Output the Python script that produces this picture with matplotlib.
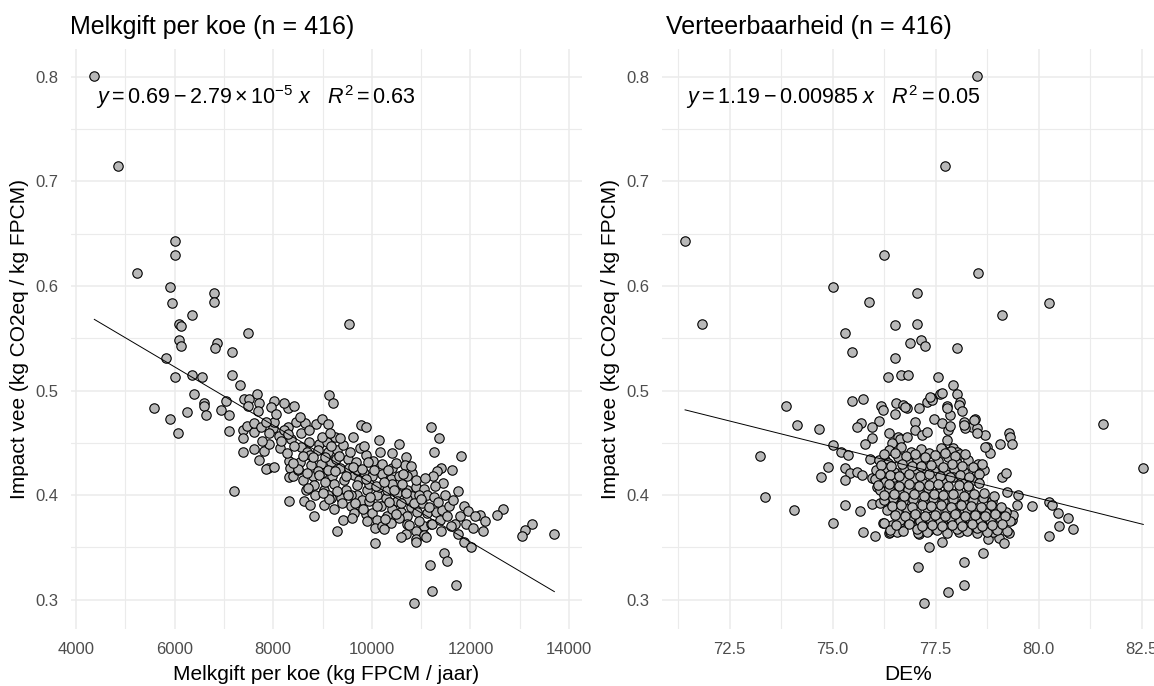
import matplotlib
matplotlib.use("Agg")
import matplotlib.pyplot as plt
import numpy as np

plt.rcParams['font.family'] = ['Liberation Sans', 'DejaVu Sans']
plt.rcParams['mathtext.fontset'] = 'custom'
plt.rcParams['mathtext.rm'] = 'Liberation Sans'
plt.rcParams['mathtext.it'] = 'Liberation Sans:italic'
plt.rcParams['mathtext.bf'] = 'Liberation Sans:bold'

# ---------------- data: left panel (Melkgift per koe) ----------------
melk_x = [
    4372, 4859, 6008, 6008, 5244, 5907, 5941, 6799, 6799, 6346, 6096, 6120, 7495, 6096, 6123, 6853, 6826, 7157, 5826,
    9538,
    6008, 6346, 6563, 7157, 7326, 6394, 5582, 5907, 6062, 6252, 6603, 6603, 6637, 6941, 7110, 7042, 7401, 7502, 7495,
    7103, 7205, 7380, 7394, 7462, 7617, 8002, 7394, 7894, 8307,
    7669, 7716, 7682, 8020, 8209, 8412, 7953, 9141, 9222, 7601, 7750, 8007, 8290, 8459, 8641, 8864, 8999, 9114,
    7919, 8122, 8223, 8358, 8560, 8729, 8932, 9087, 9249, 9789, 9877, 9627, 10140, 10558, 11200, 11368, 11253, 11800,
    7601, 7817, 7716, 8142, 7919, 8560, 8695, 8898, 9101, 9303, 7851, 8020, 8324, 8344, 8547, 8749, 8776, 8965, 9168,
    9357, 9519, 9674, 9877, 10032, 10214, 10417, 10687, 10673, 10822, 11397, 11619, 11314, 11247, 11450, 11747, 11869,
    8324, 8392, 8594, 8797, 8999, 9202, 9236, 9438, 9641, 9843, 10012, 10214, 10383, 10552, 10720,
    8662, 8831, 9033, 9168, 9472, 9695, 9911, 10113, 10282, 10518, 10720, 10889, 11058, 11126, 11261,
    8324, 8628, 8749, 9033, 9236, 8831, 9405, 9573, 9742, 9877, 10012, 10194, 10113, 10302, 10417, 10586, 10720,
    10788, 10923, 11025, 11126, 11295, 11430, 11565,
    9911, 10059, 10214, 10383, 10552, 10720, 10687, 10889, 11058, 11193, 11396, 10889, 11065, 9303, 10059,
    11463, 11517, 11186, 11680, 11747, 11916, 12051, 12253, 12186, 12287, 11869, 12017,
    9641, 9810, 9573, 9101, 9371, 8493, 8898, 9742, 9945, 10147, 10316, 10417, 10620, 10822, 10956, 10518, 10720,
    9945, 9540, 9708, 9270, 9101,
    12667, 12531, 13241, 13106, 13052, 13701, 11707, 11227, 10862,
    8150, 8270, 8430, 8510, 8600, 8680, 8720, 8810, 8850, 8930, 8980, 9050, 9060, 9130, 9180, 9250, 9300, 9330,
    9400, 9420, 9480, 9520, 9560, 9610, 9650, 9700, 9760, 9800, 9830, 9880, 9930, 9970, 10050, 10080, 10100, 10160,
    10240, 10270, 10330, 10350, 10450, 10480, 10500, 10600, 10640, 10700, 10760, 10800, 10860, 10900, 10950, 11000,
    11080, 11100, 11150, 11220, 11280, 11340, 11380, 11480, 11530, 11600, 11650, 11780, 11950, 12100,
    8400, 8550, 8050, 7850, 7780, 8300, 9150, 9350, 9000, 8700, 9850, 10400, 10250, 9600, 10600, 10900,
]
melk_y = [
    0.801, 0.715, 0.643, 0.630, 0.612, 0.599, 0.584, 0.593, 0.585, 0.572, 0.564, 0.562, 0.555, 0.548, 0.543, 0.545, 0.541, 0.537, 0.531,
    0.564,
    0.513, 0.515, 0.513, 0.515, 0.505, 0.497, 0.483, 0.473, 0.459, 0.479, 0.488, 0.485, 0.477, 0.481, 0.477, 0.490, 0.492, 0.492, 0.485,
    0.461, 0.404, 0.462, 0.455, 0.466, 0.460, 0.464, 0.441, 0.426, 0.483,
    0.497, 0.488, 0.480, 0.490, 0.488, 0.485, 0.484, 0.496, 0.488, 0.469, 0.465, 0.470, 0.465, 0.470, 0.469, 0.468, 0.473, 0.468,
    0.459, 0.457, 0.462, 0.454, 0.459, 0.451, 0.449, 0.451, 0.456, 0.467, 0.465, 0.456, 0.453, 0.449, 0.465, 0.455, 0.441, 0.437,
    0.444, 0.442, 0.434, 0.445, 0.449, 0.446, 0.441, 0.443, 0.441, 0.443, 0.425, 0.427, 0.433, 0.426, 0.432, 0.438, 0.429, 0.430, 0.432,
    0.426, 0.435, 0.432, 0.438, 0.433, 0.430, 0.426, 0.436, 0.429, 0.421, 0.426, 0.424, 0.423, 0.418, 0.412, 0.404, 0.390,
    0.417, 0.418, 0.414, 0.418, 0.421, 0.418, 0.411, 0.414, 0.419, 0.421, 0.418, 0.420, 0.415, 0.418, 0.418,
    0.405, 0.410, 0.405, 0.397, 0.405, 0.400, 0.405, 0.400, 0.397, 0.402, 0.405, 0.408, 0.406, 0.400, 0.398,
    0.394, 0.394, 0.391, 0.391, 0.387, 0.380, 0.376, 0.390, 0.391, 0.382, 0.383, 0.390, 0.376, 0.380, 0.387, 0.384, 0.380,
    0.389, 0.384, 0.392, 0.383, 0.384, 0.386, 0.390,
    0.375, 0.369, 0.370, 0.373, 0.378, 0.372, 0.363, 0.366, 0.370, 0.372, 0.366, 0.358, 0.362, 0.366, 0.354,
    0.345, 0.337, 0.333, 0.372, 0.363, 0.372, 0.369, 0.366, 0.381, 0.375, 0.355, 0.350,
    0.383, 0.395, 0.400, 0.400, 0.397, 0.424, 0.423, 0.414, 0.411, 0.408, 0.405, 0.411, 0.411, 0.399, 0.400, 0.394, 0.396,
    0.394, 0.426, 0.424, 0.435, 0.424,
    0.387, 0.381, 0.372, 0.367, 0.361, 0.363, 0.314, 0.308, 0.297,
    0.452, 0.440, 0.447, 0.425, 0.437, 0.421, 0.462, 0.436, 0.400, 0.419, 0.456, 0.436, 0.413, 0.396, 0.447, 0.423, 0.404, 0.437,
    0.392, 0.448, 0.418, 0.400, 0.441, 0.427, 0.392, 0.410, 0.445, 0.425, 0.387, 0.415, 0.432, 0.398, 0.424, 0.409, 0.390, 0.441,
    0.413, 0.377, 0.424, 0.393, 0.405, 0.382, 0.431, 0.392, 0.420, 0.402, 0.371, 0.428, 0.392, 0.414, 0.375, 0.396,
    0.416, 0.360, 0.389, 0.372, 0.409, 0.393, 0.376, 0.400, 0.380, 0.370, 0.395, 0.380, 0.385, 0.380,
    0.431, 0.475, 0.478, 0.470, 0.452, 0.458, 0.459, 0.455, 0.402, 0.407, 0.447, 0.440, 0.368, 0.378, 0.360, 0.355,
]

# ---------------- data: right panel (Verteerbaarheid, DE%) ----------------
de_x = [
    71.42, 76.25, 75.01, 75.88, 71.84, 76.51, 75.30, 75.48, 76.51,
    78.50, 77.72, 78.53, 77.04, 80.26, 79.12, 77.04, 76.87, 77.14, 77.25, 78.02,
    76.34, 76.67, 73.87, 74.13, 74.68, 75.47, 75.73, 76.18, 76.23, 76.52, 76.54, 76.72, 76.12, 75.69, 75.59, 75.95,
    75.95, 75.79, 76.36, 76.58, 76.64, 75.02, 75.20, 75.37, 75.91, 73.25, 74.89, 74.72, 75.31, 75.43, 75.59, 75.71,
    75.31, 73.35, 74.07, 75.02, 75.31, 75.67, 75.95, 75.73, 76.02, 76.22, 76.38, 76.60, 76.44, 76.07, 76.20, 76.07,
    76.28, 76.36, 76.52, 76.36, 76.52, 76.36, 76.68, 76.72, 76.28, 76.40, 76.44, 76.68, 76.72, 76.52, 76.68, 76.16, 75.95,
    76.82, 77.55, 77.92, 76.80, 77.10, 77.29, 77.41, 77.61, 77.65, 78.02, 78.10, 78.06, 78.14, 77.77, 77.85, 77.79,
    77.45, 77.65, 77.85, 78.18, 78.46, 78.38, 78.50, 78.22, 78.70, 79.07, 79.29, 79.31, 79.36, 78.74, 78.81, 77.77,
    77.69, 77.92, 78.03, 77.00, 77.00, 77.17, 77.29, 76.80,
    79.11, 79.21, 79.23, 79.51, 79.84, 80.26, 80.32, 80.46, 80.72, 80.50, 80.84, 80.26, 81.57, 82.54, 79.47,
    77.33, 77.65, 77.07, 78.18, 78.64, 77.79, 78.18, 77.23,
    77.09, 77.33, 77.53, 77.81, 78.06, 78.27, 78.50, 78.76, 79.03, 79.16, 79.27, 78.90, 79.35, 79.23, 79.39, 79.03,
    78.82, 78.66, 78.42, 78.18, 78.01, 77.85, 77.65, 77.37, 77.13, 76.88, 76.64, 76.40, 76.56, 76.24,
    78.18, 78.42, 78.50, 78.70, 76.76, 77.41, 77.37, 77.77, 77.08,
    76.38, 76.66, 76.90, 77.15, 77.35, 77.63, 77.88, 78.10,
    76.12, 76.35, 76.58, 76.82, 77.05, 77.27, 77.55, 77.79, 78.03, 78.28, 78.52,
    76.05, 76.30, 76.50, 76.75, 77.02, 77.24, 77.47, 77.75, 77.95, 78.20, 78.48, 78.68,
    76.02, 76.26, 76.48, 76.73, 76.97, 77.20, 77.44, 77.69, 77.93, 78.18, 78.42,
    76.15, 76.36, 76.60, 76.84, 77.08, 77.32, 77.57, 77.80, 78.05, 78.30,
    76.24, 76.47, 76.71, 76.95, 77.19, 77.44, 77.68, 77.91, 78.16, 78.40, 78.64, 78.88,
    76.32, 76.56, 76.80, 77.03, 77.28, 77.52, 77.77, 78.00, 78.25, 78.49, 78.73, 78.97, 79.21,
    76.64, 76.89, 77.12, 77.37, 77.61, 77.85, 78.10, 78.34, 78.58, 78.82, 79.06, 79.30,
    76.40, 76.72, 77.05, 77.29, 77.53, 77.77, 78.02, 78.26, 78.50, 78.74, 78.99, 79.23,
    76.25, 76.52, 76.77, 77.00, 77.24, 77.49, 77.72, 77.96, 78.21,
    76.18, 76.42, 76.68, 76.92, 77.15, 77.40, 77.67, 77.90, 78.15, 78.40, 78.62,
    76.14, 76.39, 76.62, 76.86, 77.12, 77.35, 77.60, 77.84, 78.08, 78.32, 78.56,
    76.10, 76.38, 76.62, 76.86, 77.09, 77.33, 77.57, 77.81, 78.06, 78.29, 78.55,
    76.25, 76.50, 76.74, 76.97, 77.21, 77.46, 77.69, 77.93, 78.18, 78.43, 78.67, 78.92,
    76.45, 76.67, 76.92, 77.16, 77.40, 77.64, 77.88, 78.12, 78.37, 78.61, 78.85, 79.09,
    76.52, 76.76, 77.00, 77.25, 77.49, 77.73, 77.97, 78.22, 78.46, 78.70, 78.94, 79.18,
    76.55, 76.85, 77.17, 77.41, 77.65, 77.89, 78.14, 78.38, 78.62, 78.86, 79.11,
]
de_y = [
    0.643, 0.630, 0.599, 0.585, 0.564, 0.563, 0.555, 0.537, 0.531,
    0.801, 0.715, 0.612, 0.593, 0.584, 0.572, 0.564, 0.545, 0.548, 0.543, 0.541,
    0.513, 0.5145, 0.485, 0.467, 0.463, 0.490, 0.492, 0.485, 0.481, 0.478, 0.488, 0.486, 0.471, 0.469, 0.465, 0.465,
    0.455, 0.449, 0.459, 0.456, 0.454, 0.448, 0.4415, 0.438, 0.435, 0.437, 0.427, 0.417, 0.426, 0.421, 0.422, 0.419,
    0.414, 0.3985, 0.386, 0.373, 0.391, 0.3845, 0.3915, 0.365, 0.361, 0.373, 0.364, 0.366, 0.371, 0.418, 0.426, 0.408,
    0.421, 0.411, 0.418, 0.3985, 0.402, 0.387, 0.383, 0.376, 0.434, 0.443, 0.4495, 0.435, 0.424, 0.392, 0.395, 0.392, 0.416,
    0.5145, 0.513, 0.505, 0.483, 0.483, 0.489, 0.4925, 0.497, 0.498, 0.497, 0.489, 0.486, 0.480, 0.485, 0.477, 0.462,
    0.4725, 0.469, 0.466, 0.470, 0.4725, 0.465, 0.464, 0.464, 0.4575, 0.4486, 0.4597, 0.456, 0.449, 0.4457, 0.4406, 0.4527,
    0.443, 0.4447, 0.4415, 0.470, 0.462, 0.4575, 0.460, 0.456,
    0.4176, 0.4215, 0.4033, 0.400, 0.390, 0.3937, 0.3906, 0.3832, 0.3778, 0.3705, 0.3676, 0.3612, 0.468, 0.4256, 0.3906,
    0.350, 0.3555, 0.3316, 0.3357, 0.345, 0.3077, 0.3138, 0.297,
    0.3628, 0.3666, 0.3682, 0.3698, 0.365, 0.3666, 0.3634, 0.3577, 0.3593, 0.3539, 0.3641, 0.365, 0.3762, 0.3826, 0.381, 0.3842,
    0.3826, 0.3746, 0.3746, 0.3778, 0.3737, 0.3794, 0.3746, 0.3746, 0.373, 0.3762, 0.3746, 0.365, 0.365, 0.373,
    0.467, 0.4718, 0.4597, 0.4463, 0.4839, 0.491, 0.494, 0.483, 0.3634,
    0.443, 0.446, 0.441, 0.444, 0.440, 0.445, 0.442, 0.439,
    0.434, 0.431, 0.436, 0.432, 0.435, 0.430, 0.433, 0.436, 0.431, 0.434, 0.430,
    0.424, 0.426, 0.422, 0.425, 0.421, 0.426, 0.423, 0.420, 0.425, 0.422, 0.419, 0.424,
    0.415, 0.413, 0.417, 0.414, 0.416, 0.412, 0.415, 0.413, 0.417, 0.412, 0.414,
    0.405, 0.407, 0.403, 0.406, 0.404, 0.407, 0.402, 0.405, 0.403, 0.406,
    0.395, 0.397, 0.394, 0.396, 0.393, 0.397, 0.394, 0.396, 0.393, 0.395, 0.397, 0.394,
    0.386, 0.384, 0.387, 0.385, 0.388, 0.384, 0.386, 0.383, 0.387, 0.385, 0.383, 0.386, 0.384,
    0.376, 0.378, 0.375, 0.377, 0.374, 0.378, 0.375, 0.377, 0.374, 0.376, 0.378, 0.375,
    0.367, 0.366, 0.368, 0.365, 0.367, 0.364, 0.368, 0.366, 0.369, 0.365, 0.367, 0.366,
    0.439, 0.440, 0.437, 0.439, 0.436, 0.438, 0.440, 0.437, 0.439,
    0.429, 0.428, 0.430, 0.428, 0.428, 0.429, 0.427, 0.430, 0.428, 0.427, 0.430,
    0.420, 0.419, 0.418, 0.420, 0.418, 0.420, 0.418, 0.417, 0.419, 0.417, 0.420,
    0.410, 0.411, 0.409, 0.411, 0.409, 0.410, 0.411, 0.409, 0.410, 0.409, 0.412,
    0.400, 0.401, 0.399, 0.401, 0.399, 0.401, 0.400, 0.401, 0.399, 0.401, 0.402, 0.399,
    0.390, 0.391, 0.389, 0.391, 0.390, 0.391, 0.389, 0.391, 0.390, 0.389, 0.391, 0.389,
    0.381, 0.380, 0.382, 0.380, 0.381, 0.380, 0.382, 0.380, 0.381, 0.380, 0.382, 0.380,
    0.371, 0.372, 0.370, 0.371, 0.370, 0.371, 0.370, 0.372, 0.370, 0.371, 0.372,
]

# regression coefficients and line style inputs
melk_intercept, melk_slope = 0.69, -2.79e-5
de_intercept, de_slope = 1.185, -0.00985
titles = ["Melkgift per koe (n = 416)", "Verteerbaarheid (n = 416)"]
xlabels = ["Melkgift per koe (kg FPCM / jaar)", "DE%"]
ylabel = "Impact vee (kg CO2eq / kg FPCM)"
eqs = [r"$y = 0.69 - 2.79\times10^{-5}\ x\ \ \ R^2 = 0.63$",
       r"$y = 1.19 - 0.00985\ x\ \ \ R^2 = 0.05$"]
melk_ticks = [4000, 6000, 8000, 10000, 12000, 14000]
melk_minor = [5000, 7000, 9000, 11000, 13000]
de_ticks = [72.5, 75.0, 77.5, 80.0, 82.5]
de_minor = [71.25, 73.75, 76.25, 78.75, 81.25]
y_ticks = [0.3, 0.4, 0.5, 0.6, 0.7, 0.8]
y_minor = [0.35, 0.45, 0.55, 0.65, 0.75]

W, H = 1154, 686
fig = plt.figure(figsize=(W / 100, H / 100), dpi=100)
top_px, bot_px = 48.5, 629
ph = bot_px - top_px
axL = fig.add_axes([71 / W, 1 - bot_px / H, 511 / W, ph / H])
axR = fig.add_axes([662 / W, 1 - bot_px / H, 492 / W, ph / H])

panels = [
    dict(ax=axL, xs=melk_x, ys=melk_y, b0=melk_intercept, b1=melk_slope, xlim=(3899, 14262),
         xt=melk_ticks, xm=melk_minor, xtl=[f"{t:d}" for t in melk_ticks],
         left=71, width=511, title_px=70, eq_px=96, ylab_px=20),
    dict(ax=axR, xs=de_x, ys=de_y, b0=de_intercept, b1=de_slope, xlim=(70.86, 82.80),
         xt=de_ticks, xm=de_minor, xtl=[f"{t:.1f}" for t in de_ticks],
         left=662, width=492, title_px=666, eq_px=686, ylab_px=610),
]

for i, p in enumerate(panels):
    ax = p['ax']
    ax.set_xlim(*p['xlim'])
    ax.set_ylim(0.272, 0.827)
    ax.set_xticks(p['xt'])
    ax.set_xticklabels(p['xtl'])
    ax.set_xticks(p['xm'], minor=True)
    ax.set_yticks(y_ticks)
    ax.set_yticklabels([f"{t:.1f}" for t in y_ticks])
    ax.set_yticks(y_minor, minor=True)
    ax.grid(which='major', color='#EBEBEB', lw=1.1)
    ax.grid(which='minor', color='#EBEBEB', lw=0.8)
    ax.set_axisbelow(True)
    for s in ax.spines.values():
        s.set_visible(False)
    ax.tick_params(which='both', length=0)
    ax.tick_params(axis='both', labelsize=12, labelcolor='#4D4D4D')
    ax.tick_params(axis='x', pad=9)
    ax.tick_params(axis='y', pad=9)
    xs_a = np.array(p['xs'], dtype=float)
    ys_a = np.array(p['ys'], dtype=float)
    ax.scatter(xs_a, ys_a, s=46, facecolor='#B8B8B8', edgecolor='black', linewidths=0.8, zorder=3)
    xl = np.linspace(xs_a.min(), xs_a.max(), 80)
    ax.plot(xl, p['b0'] + p['b1'] * xl, color='black', lw=0.7, zorder=4)
    ax.set_xlabel(xlabels[i], fontsize=15, color='black')
    ax.xaxis.set_label_coords(0.5, -(675 - bot_px) / ph)
    ax.xaxis.label.set_va('center')
    ax.set_ylabel(ylabel, fontsize=15, color='black')
    ax.yaxis.set_label_coords((p['ylab_px'] - p['left']) / p['width'], 0.5)
    ax.yaxis.label.set_va('center')
    ax.text((p['title_px'] - p['left']) / p['width'], 1 + (top_px - 27) / ph, titles[i],
            transform=ax.transAxes, fontsize=18, ha='left', va='center', color='black')
    ax.text((p['eq_px'] - p['left']) / p['width'], 1 - (97 - top_px) / ph, eqs[i],
            transform=ax.transAxes, fontsize=15.5, ha='left', va='center', color='black')

fig.savefig("out.png", dpi=100)
